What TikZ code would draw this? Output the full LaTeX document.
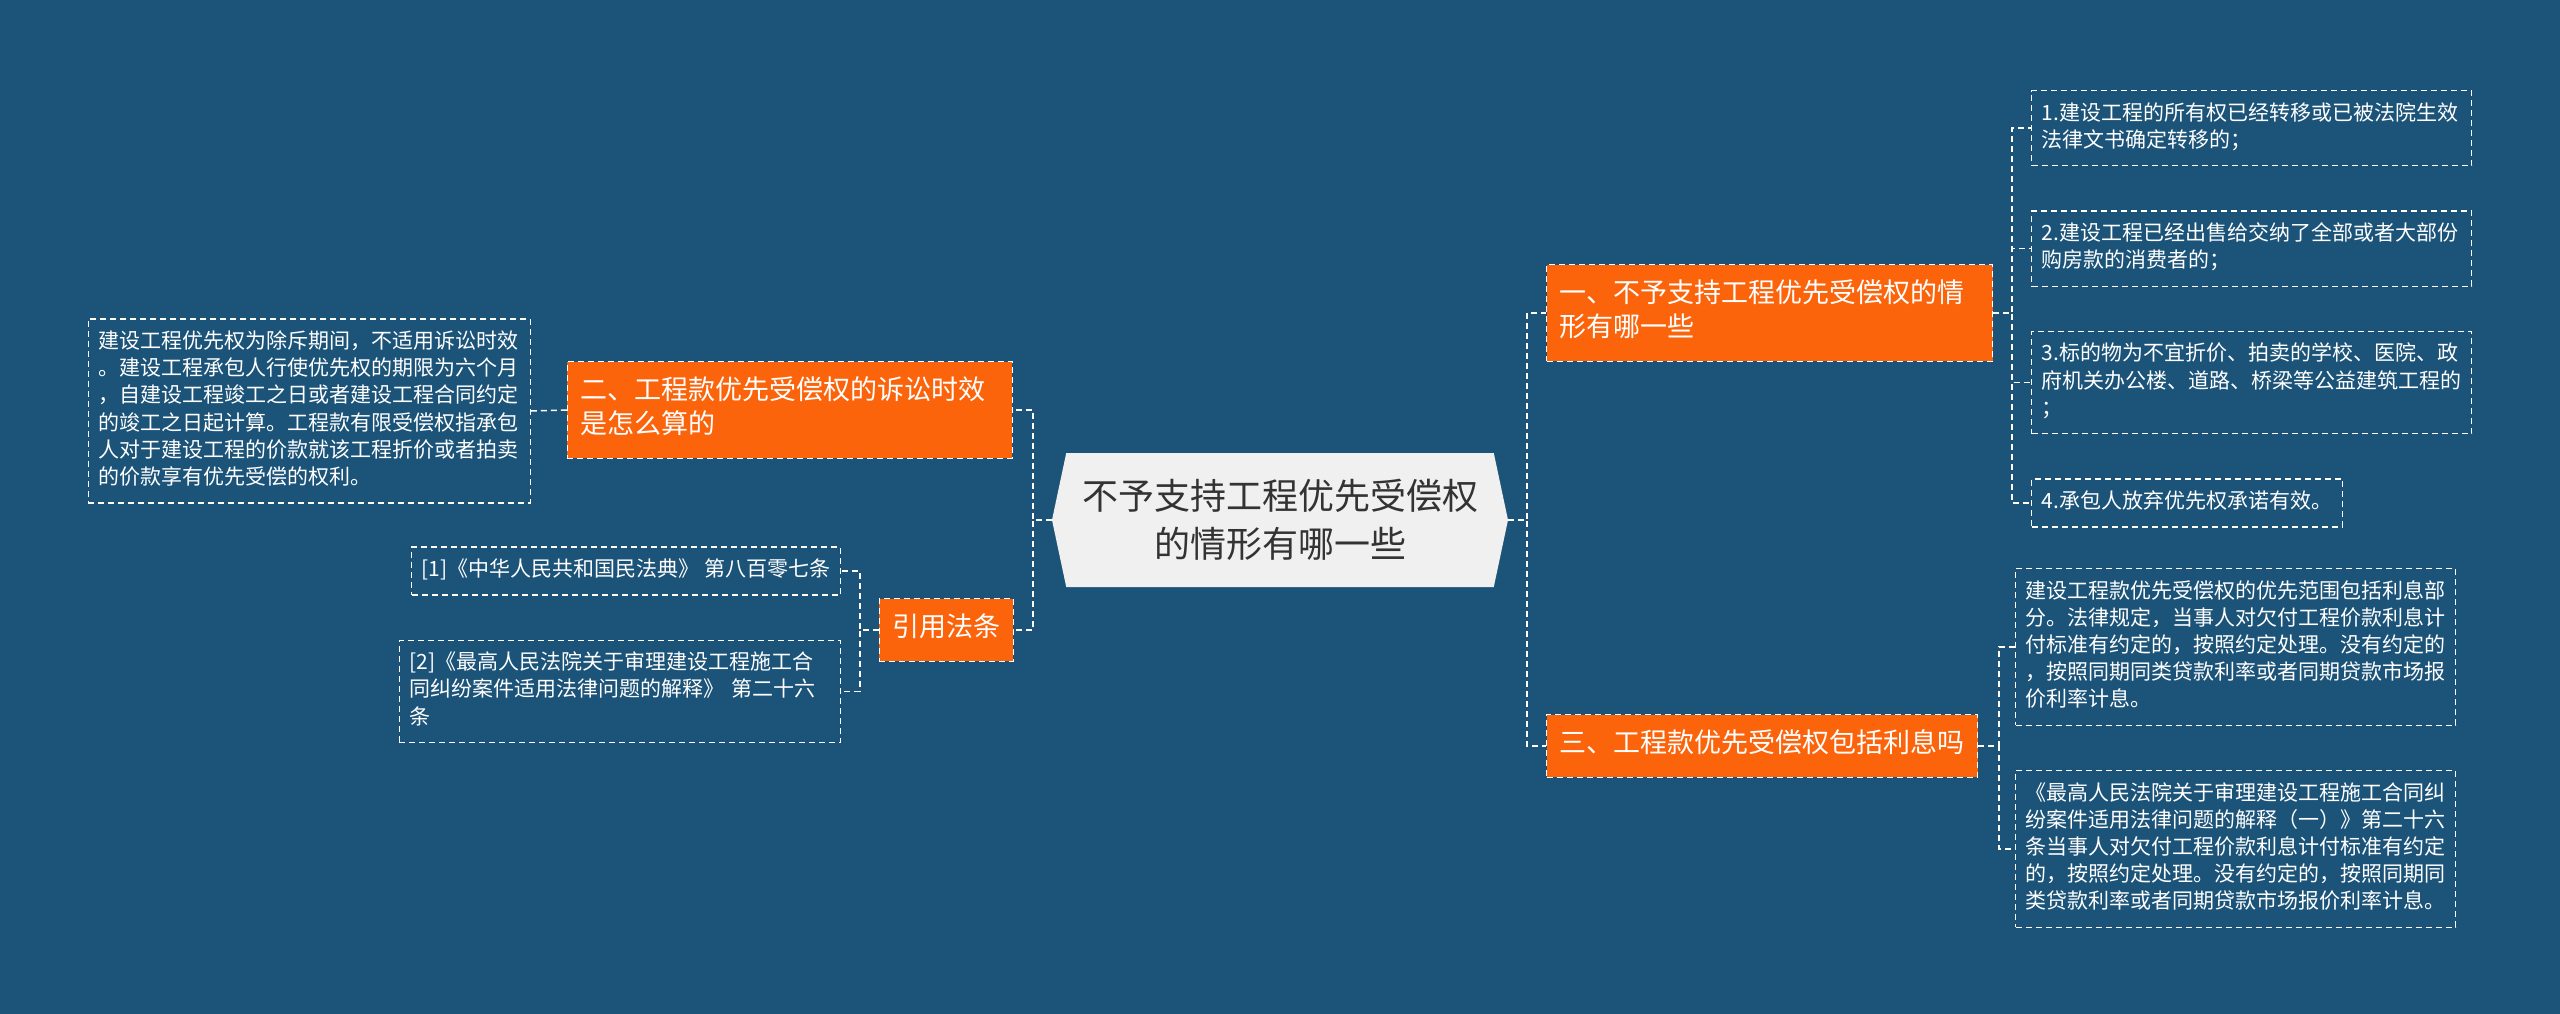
\documentclass[tikz,border=0pt]{standalone}
\usepackage{fontspec}
\setmainfont{Noto Sans CJK SC}
\usetikzlibrary{positioning, shapes.symbols}
\definecolor{bgblue}{HTML}{1C5479}
\definecolor{topicorange}{HTML}{FC640C}
\definecolor{rootgray}{HTML}{F0F0F0}
\definecolor{roottext}{HTML}{333333}

\begin{document}
\begin{tikzpicture}[
    x=1pt, y=-1pt,
    root/.style={signal, signal to=west and east, signal pointer angle=156,
    fill=rootgray, text=roottext, align=center, minimum width=456pt,
    minimum height=134pt, inner xsep=14pt, inner ysep=19pt,
    font=\fontsize{36}{48}\selectfont},
    topic/.style={rectangle, fill=topicorange, draw=white, line width=1.2pt,
    dash pattern=on 6pt off 4pt, text=white, align=left, inner xsep=13pt,
    inner ysep=14.3pt, font=\fontsize{27}{34}\selectfont,
    execute at begin node=\strut, execute at end node=\strut},
    leaf/.style={rectangle, draw=white, line width=1.2pt,
    dash pattern=on 6pt off 4pt, text=white, align=left, inner xsep=10pt,
    inner ysep=10.4pt, font=\fontsize{21}{27.2}\selectfont,
    execute at begin node=\strut, execute at end node=\strut},
    link/.style={draw=white, line width=1.5pt, dash pattern=on 6pt off 4pt}
]

\fill[bgblue] (0,0) rectangle (2560,1014);
\useasboundingbox (0,0) rectangle (2560,1014);

\node[root] (root) at (1280,520) {不予支持工程优先受偿权\\的情形有哪一些};

% right side
\node[topic, text width=420pt, anchor=west] (t1) at (1546,313) {一、不予支持工程优先受偿权的情\\形有哪一些};
\node[topic, anchor=west] (t2) at (1546,746) {三、工程款优先受偿权包括利息吗};

\node[leaf, text width=420pt, anchor=north west] (r1) at (2031,90) {1.建设工程的所有权已经转移或已被法院生效\\法律文书确定转移的；};
\node[leaf, text width=420pt, below right=44pt and 0pt of r1.south west] (r2) {2.建设工程已经出售给交纳了全部或者大部份\\购房款的消费者的；};
\node[leaf, text width=420pt, below right=44pt and 0pt of r2.south west] (r3) {3.标的物为不宜折价、拍卖的学校、医院、政\\府机关办公楼、道路、桥梁等公益建筑工程的\\；};
\node[leaf, below right=44pt and 0pt of r3.south west] (r4) {4.承包人放弃优先权承诺有效。};

\node[leaf, text width=420pt, anchor=north west] (r5) at (2015,568) {建设工程款优先受偿权的优先范围包括利息部\\分。法律规定，当事人对欠付工程价款利息计\\付标准有约定的，按照约定处理。没有约定的\\，按照同期同类贷款利率或者同期贷款市场报\\价利率计息。};
\node[leaf, text width=420pt, below right=44pt and 0pt of r5.south west] (r6) {《最高人民法院关于审理建设工程施工合同纠\\纷案件适用法律问题的解释（一）》第二十六\\条当事人对欠付工程价款利息计付标准有约定\\的，按照约定处理。没有约定的，按照同期同\\类贷款利率或者同期贷款市场报价利率计息。};

% left side
\node[topic, text width=419pt, anchor=east] (t3) at (1013,410) {二、工程款优先受偿权的诉讼时效\\是怎么算的};
\node[topic, anchor=east] (t4) at (1014,630) {引用法条};

\node[leaf, text width=422pt, anchor=east] (l1) at (531,411) {建设工程优先权为除斥期间，不适用诉讼时效\\。建设工程承包人行使优先权的期限为六个月\\，自建设工程竣工之日或者建设工程合同约定\\的竣工之日起计算。工程款有限受偿权指承包\\人对于建设工程的价款就该工程折价或者拍卖\\的价款享有优先受偿的权利。};

\node[leaf, anchor=east] (c1) at (841,571) {[1]《中华人民共和国民法典》 第八百零七条};
\node[leaf, text width=421pt, below left=44pt and 0pt of c1.south east] (c2) {[2]《最高人民法院关于审理建设工程施工合\\同纠纷案件适用法律问题的解释》 第二十六\\条};

% connectors
\draw[link] (root.east) -- ++(19pt,0) |- (t1.west);
\draw[link] (root.east) -- ++(19pt,0) |- (t2.west);
\draw[link] (root.west) -- ++(-19pt,0) |- (t3.east);
\draw[link] (root.west) -- ++(-19pt,0) |- (t4.east);

\draw[link] (t1.east) -- ++(19pt,0) |- (r1.west);
\draw[link] (t1.east) -- ++(19pt,0) |- (r2.west);
\draw[link] (t1.east) -- ++(19pt,0) |- (r3.west);
\draw[link] (t1.east) -- ++(19pt,0) |- (r4.west);
\draw[link] (t2.east) -- ++(21pt,0) |- (r5.west);
\draw[link] (t2.east) -- ++(21pt,0) |- (r6.west);

\draw[link] (t3.west) -- (l1.east);
\draw[link] (t4.west) -- ++(-19pt,0) |- (c1.east);
\draw[link] (t4.west) -- ++(-19pt,0) |- (c2.east);

\end{tikzpicture}
\end{document}
